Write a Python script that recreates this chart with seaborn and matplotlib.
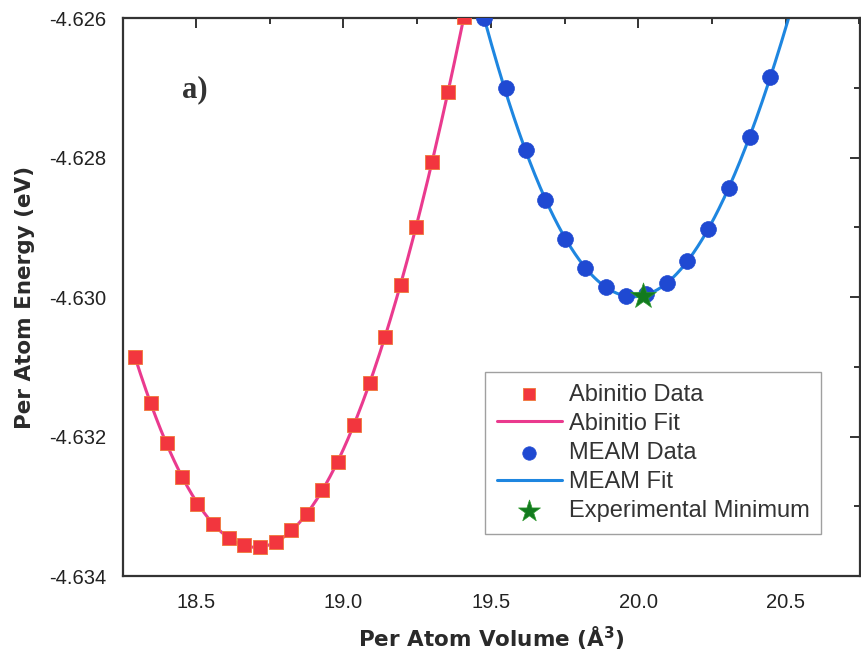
import numpy as np
import pandas as pd
import matplotlib
matplotlib.use("Agg")
import matplotlib.pyplot as plt
import seaborn as sns
from matplotlib.ticker import MultipleLocator

# ---- data ----
abinitio_vol = [18.293, 18.347, 18.402, 18.453, 18.503, 18.558, 18.612, 18.663,
                18.717, 18.771, 18.822, 18.876, 18.927, 18.981, 19.036, 19.090,
                19.141, 19.195, 19.246, 19.300, 19.354, 19.410]
abinitio_energy = [-4.63086, -4.63152, -4.63209, -4.63258, -4.63297, -4.63325,
                   -4.63346, -4.63356, -4.63358, -4.63351, -4.63334, -4.63311,
                   -4.63277, -4.63237, -4.63184, -4.63123, -4.63057, -4.62983,
                   -4.62900, -4.62806, -4.62706, -4.62598]
meam_vol = [19.476, 19.550, 19.618, 19.684, 19.752, 19.821, 19.890, 19.958,
            20.027, 20.098, 20.165, 20.237, 20.308, 20.378, 20.448]
meam_energy = [-4.62600, -4.62701, -4.62789, -4.62861, -4.62917, -4.62959,
               -4.62985, -4.62998, -4.62996, -4.62980, -4.62948, -4.62903,
               -4.62844, -4.62770, -4.62684]
exp_min_vol = [20.015]
exp_min_energy = [-4.62998]

x_ticks = [18.5, 19.0, 19.5, 20.0, 20.5]
y_ticks = [-4.634, -4.632, -4.630, -4.628, -4.626]

# ---- fits (polynomial fit of each data set) ----
p_ab = np.polyfit(abinitio_vol, abinitio_energy, 4)
p_me = np.polyfit(meam_vol, meam_energy, 4)
xa = np.linspace(min(abinitio_vol), max(abinitio_vol) + 0.02, 300)
xm = np.linspace(min(meam_vol) - 0.02, max(meam_vol) + 0.08, 300)
ab_fit = pd.DataFrame({"v": xa, "e": np.polyval(p_ab, xa)})
me_fit = pd.DataFrame({"v": xm, "e": np.polyval(p_me, xm)})
ab_df = pd.DataFrame({"v": abinitio_vol, "e": abinitio_energy})
me_df = pd.DataFrame({"v": meam_vol, "e": meam_energy})
ex_df = pd.DataFrame({"v": exp_min_vol, "e": exp_min_energy})

sns.set_style("white")
plt.rcParams["font.family"] = ["Liberation Sans", "DejaVu Sans"]

fig = plt.figure(figsize=(8.62, 6.62), dpi=100)
ax = fig.add_axes([0.1427, 0.1299, 0.8550, 0.8429])

pink = "#EA3A8E"
red = "#F2363E"
lblue = "#1E86E0"
dblue = "#1F49D2"
green = "#127A1E"

sns.lineplot(data=ab_fit, x="v", y="e", ax=ax, color=pink, lw=2.2,
             label="Abinitio Fit", sort=False, zorder=2)
sns.lineplot(data=me_fit, x="v", y="e", ax=ax, color=lblue, lw=2.2,
             label="MEAM Fit", sort=False, zorder=2)
sns.scatterplot(data=ab_df, x="v", y="e", ax=ax, marker="s", s=95, color=red,
                edgecolor="#F07838", linewidth=0.6, label="Abinitio Data", zorder=3)
sns.scatterplot(data=me_df, x="v", y="e", ax=ax, marker="o", s=130, color=dblue,
                edgecolor=dblue, linewidth=0.5, label="MEAM Data", zorder=3)
sns.scatterplot(data=ex_df, x="v", y="e", ax=ax, marker="*", s=380, color=green,
                edgecolor="#2E9A2E", linewidth=0.5, label="Experimental Minimum",
                zorder=4)

ax.set_xlim(18.253, 20.752)
ax.set_ylim(-4.634, -4.626)
ax.set_xticks(x_ticks)
ax.set_yticks(y_ticks)
ax.set_xticklabels([f"{t:.1f}" for t in x_ticks])
ax.set_yticklabels([f"{t:.3f}" for t in y_ticks])
ax.xaxis.set_minor_locator(MultipleLocator(0.25))
ax.yaxis.set_minor_locator(MultipleLocator(0.001))
ax.tick_params(which="both", direction="in", top=True, right=True,
               colors="#333333", labelcolor="#222222", width=1.4)
ax.tick_params(which="major", length=7, labelsize=14.5, pad=12)
ax.tick_params(which="minor", length=4.5)
for s in ax.spines.values():
    s.set_linewidth(1.6)
    s.set_color("#333333")
    s.set_visible(True)

lab_font = dict(family="DejaVu Sans", weight="bold", size=15.5, color="#2a2a2a")
ax.set_xlabel(r"Per Atom Volume (Å$^\mathbf{3}$)", labelpad=9, **lab_font)
ax.set_ylabel("Per Atom Energy (eV)", labelpad=10, **lab_font)

ax.text(0.08, 0.871, "a)", transform=ax.transAxes, ha="left", va="center",
        family="Liberation Serif", weight="bold", size=22, color="#333333")

h, l = ax.get_legend_handles_labels()
order = ["Abinitio Data", "Abinitio Fit", "MEAM Data", "MEAM Fit", "Experimental Minimum"]
hmap = dict(zip(l, h))
leg = ax.legend([hmap[k] for k in order], order, loc="upper left",
                bbox_to_anchor=(0.491, 0.366), borderaxespad=0, fontsize=17,
                frameon=True, fancybox=False, edgecolor="#888888",
                handlelength=2.75, handletextpad=0.3, labelspacing=0.3,
                borderpad=0.5, markerscale=0.85)
leg.get_frame().set_linewidth(1.0)
for t in leg.get_texts():
    t.set_color("#333333")

fig.savefig("out.png", dpi=100)
